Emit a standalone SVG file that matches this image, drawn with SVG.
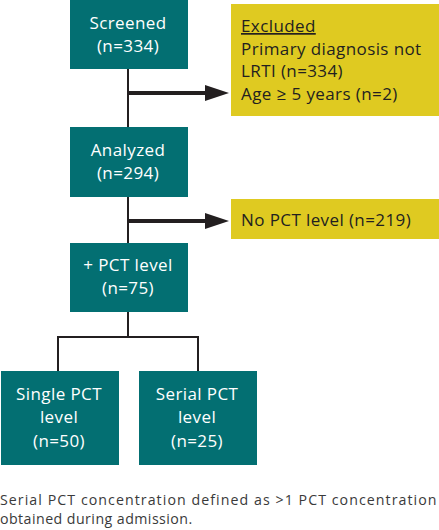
<svg xmlns="http://www.w3.org/2000/svg" width="439" height="530" viewBox="0 0 439 530">
<style>
.box{fill:#036f72}
.ybox{fill:#dfca21}
.wt{font-family:"Open Sans","Liberation Sans",sans-serif;font-size:17px;font-weight:500;letter-spacing:0.4px;fill:#fff;text-anchor:middle}
.dt{font-family:"Open Sans","Liberation Sans",sans-serif;font-size:17px;font-weight:500;letter-spacing:0.4px;fill:#231f20}
.ft{font-family:"Open Sans","Liberation Sans",sans-serif;font-size:14.2px;letter-spacing:0.45px;fill:#3a3a3a}
.ln{stroke:#231f20;stroke-width:2;fill:none}
.ar{stroke:#231f20;stroke-width:4;fill:none}
</style>
<defs>
<marker id="ah" markerWidth="6" markerHeight="4" refX="0" refY="2" orient="auto" markerUnits="strokeWidth">
<path d="M0,0 L6,2 L0,4 Z" fill="#231f20"/>
</marker>
</defs>
<rect width="439" height="530" fill="#fff"/>
<g id="connectors">
<path class="ln" d="M128,69 V128"/>
<path class="ln" d="M128,196 V243"/>
<path class="ln" d="M128,312 V337 M58,337 H198 M58,336 V371 M198,336 V371"/>
<path class="ar" d="M128,93 H205" marker-end="url(#ah)"/>
<path class="ar" d="M128,221 H205" marker-end="url(#ah)"/>
</g>
<g id="screened">
<rect class="box" x="70" y="0" width="118" height="69"/>
<text class="wt" x="128" y="29">Screened</text>
<text class="wt" x="128" y="52">(n=334)</text>
</g>
<g id="excluded">
<rect class="ybox" x="231" y="4" width="208" height="112"/>
<text class="dt" x="241" y="32" text-decoration="underline">Excluded</text>
<text class="dt" x="241" y="55">Primary diagnosis not</text>
<text class="dt" x="241" y="77">LRTI (n=334)</text>
<text class="dt" x="241" y="100">Age ≥ 5 years (n=2)</text>
</g>
<g id="analyzed">
<rect class="box" x="70" y="127" width="118" height="70"/>
<text class="wt" x="128" y="156">Analyzed</text>
<text class="wt" x="128" y="179">(n=294)</text>
</g>
<g id="nopct">
<rect class="ybox" x="231" y="199" width="208" height="40"/>
<text class="dt" x="241" y="226">No PCT level (n=219)</text>
</g>
<g id="pct">
<rect class="box" x="70" y="243" width="118" height="69"/>
<text class="wt" x="128" y="271">+ PCT level</text>
<text class="wt" x="128" y="294">(n=75)</text>
</g>
<g id="single">
<rect class="box" x="1" y="371" width="118" height="94"/>
<text class="wt" x="59" y="400">Single PCT</text>
<text class="wt" x="59" y="423">level</text>
<text class="wt" x="59" y="447">(n=50)</text>
</g>
<g id="serial">
<rect class="box" x="139" y="371" width="118" height="94"/>
<text class="wt" x="197" y="400">Serial PCT</text>
<text class="wt" x="197" y="423">level</text>
<text class="wt" x="197" y="447">(n=25)</text>
</g>
<text class="ft" x="0" y="505" textLength="437" lengthAdjust="spacing">Serial PCT concentration defined as &gt;1 PCT concentration</text>
<text class="ft" x="0" y="524">obtained during admission.</text>
</svg>
